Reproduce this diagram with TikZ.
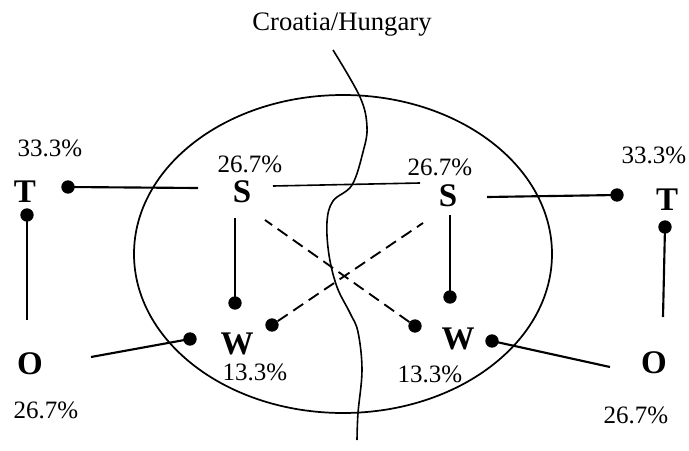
\documentclass[tikz,border=0pt]{standalone}
\usepackage{fontspec}
\setmainfont{Liberation Serif}
\begin{document}
\begin{tikzpicture}[x=0.75pt,y=-0.75pt,
  lbl/.style={anchor=base,inner sep=0pt,font=\fontsize{18.75}{22}\selectfont},
  ttl/.style={anchor=base,inner sep=0pt,font=\fontsize{20}{24}\selectfont},
  let/.style={anchor=base,inner sep=0pt,font=\fontsize{24.75}{28}\selectfont\bfseries},
  dot/.style={circle,fill=black,inner sep=0pt,minimum size=10pt},
  conn/.style={line width=1.6pt},
  dconn/.style={line width=1.4pt,dash pattern=on 9pt off 5pt}]
\useasboundingbox (0,0) rectangle (689,450);
% ellipse and border
\draw[line width=1.3pt] (343,254) ellipse [x radius=156.75pt, y radius=119.25pt];
\draw[line width=1.2pt] plot[smooth,tension=0.6] coordinates {(333,50) (360,97) (367,127) (363,152) (352,185) (333,201) (327,222) (329,255) (337,287) (350,313) (358,332) (362,370) (358,413) (357,440)};
% title
\node[ttl] (title) at (342,30) {Croatia/Hungary};
% letters
\node[let] (TL) at (25,202) {T};
\node[let] (OL) at (30,374) {O};
\node[let] (SL) at (242,202) {S};
\node[let] (WL) at (237,354) {W};
\node[let] (SR) at (448,206) {S};
\node[let] (WR) at (458,349) {W};
\node[let] (TR) at (667,210) {T};
\node[let] (OR) at (654,373) {O};
% percentages
\node[lbl] (pTL) at (50,156) {33.3\%};
\node[lbl] (pOL) at (46,418) {26.7\%};
\node[lbl] (pSL) at (250,172) {26.7\%};
\node[lbl] (pWL) at (255,380) {13.3\%};
\node[lbl] (pSR) at (440,175) {26.7\%};
\node[lbl] (pWR) at (430,382) {13.3\%};
\node[lbl] (pTR) at (654,163) {33.3\%};
\node[lbl] (pOR) at (636,423) {26.7\%};
% dots
\node[dot] (d1) at (68,187) {};
\node[dot] (d2) at (27,215) {};
\node[dot] (d3) at (190,339) {};
\node[dot] (d4) at (235,303) {};
\node[dot] (d5) at (272,325) {};
\node[dot] (d6) at (415,326) {};
\node[dot] (d7) at (450,297) {};
\node[dot] (d8) at (492,341) {};
\node[dot] (d9) at (617,195) {};
\node[dot] (d10) at (665,227) {};
% free ends
\coordinate (e1) at (198,188);
\coordinate (e2) at (27,320);
\coordinate (e3) at (91,357);
\coordinate (e4) at (235,218);
\coordinate (e5) at (423,223);
\coordinate (e6) at (265,220);
\coordinate (e7) at (450,215);
\coordinate (e8) at (610,367);
\coordinate (e9) at (487,197);
\coordinate (e10) at (663,317);
\coordinate (s1) at (273,186);
\coordinate (s2) at (420,183);
% connectors
\draw[conn] (d1.center) -- (e1);
\draw[conn] (d2.center) -- (e2);
\draw[conn] (d3.center) -- (e3);
\draw[conn] (d4.center) -- (e4);
\draw[conn] (d7.center) -- (e7);
\draw[conn] (d8.center) -- (e8);
\draw[conn] (d9.center) -- (e9);
\draw[conn] (d10.center) -- (e10);
\draw[line width=1.2pt] (s1) -- (s2);
\draw[dconn] (d5) -- (e5);
\draw[dconn] (d6) -- (e6);
\end{tikzpicture}
\end{document}
